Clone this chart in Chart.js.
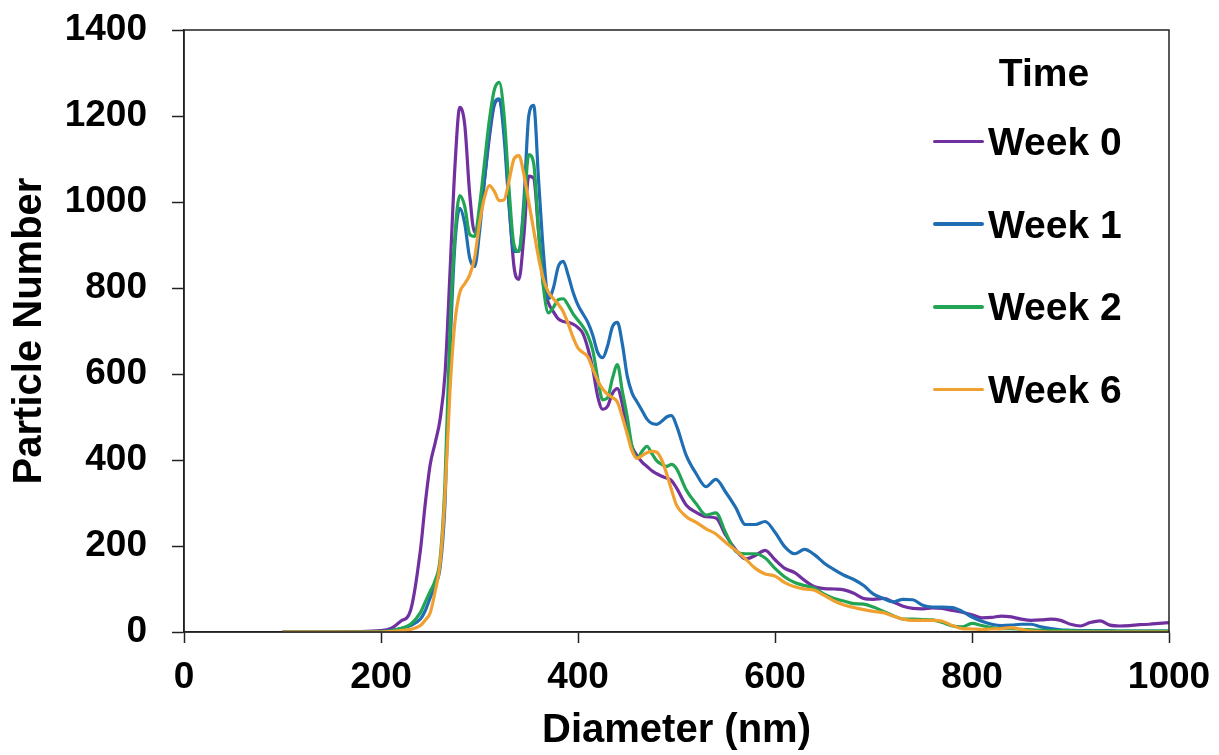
<!DOCTYPE html>
<html>
<head>
<meta charset="utf-8">
<script src="https://cdn.jsdelivr.net/npm/chart.js@4/dist/chart.umd.min.js"></script>
<style>
  body { margin: 0; background: #fff; }
  #wrap { position: relative; width: 1219px; height: 755px; }
  #legend { position: absolute; left: 0; top: 0; font-family: 'Liberation Sans', Arial, sans-serif; font-weight: bold; font-size: 39px; color: #000; }
  #legend .title { position: absolute; left: 994px; width: 100px; text-align: center; top: 53px; line-height: 39px; }
  #legend .row { position: absolute; left: 933px; height: 39px; line-height: 39px; white-space: nowrap; display: flex; align-items: center; }
  #legend .swatch { width: 51px; height: 3.5px; border-radius: 2px; margin-right: 4px; }
</style>
</head>
<body>
<div id="wrap">
  <canvas id="chart"></canvas>
  <div id="legend"><div class="title">Time</div></div>
</div>
<script>
const diameters = [
  100, 150, 200, 210, 220, 230, 240,
  245, 250, 255, 260, 265, 270, 275, 280, 285, 290, 295, 300,
  305, 310, 315, 320, 325, 330, 335, 340, 345, 350, 355, 360,
  365, 370, 375, 380, 385, 390, 395, 400, 405, 410, 415, 420,
  425, 430, 435, 440, 445, 450, 455, 460, 465, 470, 475, 480,
  485, 490, 495, 500,
  510, 520, 530, 540, 550, 560, 570, 580, 590, 600,
  610, 620, 630, 640, 650, 660, 670, 680, 690, 700,
  710, 720, 730, 740, 750, 760, 770, 780, 790, 800,
  810, 820, 830, 840, 850, 860, 870, 880, 890, 900,
  910, 920, 930, 940, 950, 960, 970, 980, 990, 1000
];

const week0 = [
  0, 0, 3, 8, 25, 50, 190,
  300, 390, 440, 495, 600, 834, 1080, 1220, 1180, 1020, 930, 960,
  1050, 1150, 1225, 1238, 1170, 1000, 850, 820, 920, 1060, 1055, 930,
  810, 765, 745, 728, 722, 720, 716, 708, 694, 660, 612, 548,
  518, 525, 555, 566, 530, 468, 430, 410, 395, 385, 375, 368,
  362, 358, 352, 335,
  295, 278, 268, 265, 225, 192, 170, 178, 190, 168,
  148, 138, 120, 105, 101, 100, 98, 90, 78, 76,
  78, 70, 60, 55, 54, 56, 55, 50, 46, 40,
  33, 34, 37, 35, 30, 27, 28, 30, 27, 18,
  14, 22, 26, 16, 14, 15, 17, 18, 20, 22
];

const week1 = [
  0, 0, 1, 3, 8, 15, 30,
  50, 80, 110, 150, 300, 650, 900, 985, 950, 870, 850, 930,
  1050, 1160, 1230, 1240, 1150, 990, 885, 885, 1000, 1200, 1225, 1050,
  880, 775, 800, 850, 862, 830, 790, 760, 740, 720, 690, 650,
  638, 665, 710, 720, 670, 595, 555, 535, 515, 495, 485, 483,
  490, 500, 503, 480,
  410, 368, 338, 355, 325, 290, 250, 250, 257, 232,
  198, 182, 192, 180, 160, 145, 132, 122, 108, 88,
  78, 70, 76, 75, 62, 58, 58, 57, 48, 35,
  25, 18, 15, 16, 18, 18, 12, 8, 5, 4,
  3, 3, 3, 3, 2, 2, 2, 2, 2, 2
];

const week2 = [
  0, 0, 1, 3, 8, 18, 45,
  70, 95, 120, 170, 350, 700, 920, 1015, 990, 925, 920, 990,
  1090, 1190, 1260, 1278, 1200, 1030, 900, 885, 980, 1110, 1090, 930,
  800, 742, 755, 773, 775, 760, 740, 725, 710, 690, 655, 590,
  540, 545, 590, 622, 560, 500, 430, 405, 420, 432, 415, 398,
  390, 385, 390, 380,
  330, 298, 272, 277, 230, 188, 182, 182, 172, 148,
  128, 115, 108, 102, 88, 78, 72, 66, 65, 58,
  48, 38, 30, 30, 29, 28, 22, 14, 12, 20,
  15, 10, 8, 8, 6, 5, 4, 3, 3, 3,
  2, 2, 2, 2, 2, 2, 2, 2, 2, 2
];

const week6 = [
  0, 0, 0, 1, 3, 6, 15,
  28, 45, 95, 160, 320, 560, 720, 790, 810, 830, 870, 950,
  1010, 1038, 1025, 1003, 1005, 1050, 1100, 1108, 1065, 1000, 935, 870,
  820, 790, 775, 762, 745, 717, 685, 660, 650, 640, 612, 585,
  565, 553, 545, 535, 500, 460, 420, 404, 410, 417, 420, 418,
  400, 368, 330, 295,
  268, 255, 240, 228, 208, 190, 170, 148, 135, 130,
  115, 105, 100, 97, 85, 72, 63, 57, 52, 48,
  45, 37, 30, 27, 27, 27, 25, 15, 8, 7,
  6, 7, 8, 10, 6, 2, 1, 0, 0, 0,
  0, 0, 0, 0, 0, 0, 0, 0, 0, 0
];

const seriesLabels = ['Week 0', 'Week 1', 'Week 2', 'Week 6'];
const seriesColors = ['#7030A0', '#1F6EB4', '#22A455', '#F0A030'];
const seriesValues = [week0, week1, week2, week6];

const FONT = "'Liberation Sans', Arial, sans-serif";

const datasets = seriesValues.map((vals, i) => ({
  label: seriesLabels[i],
  data: diameters.map((d, j) => ({ x: d, y: vals[j] })),
  borderColor: seriesColors[i],
  backgroundColor: seriesColors[i],
  borderWidth: 3.2,
  pointRadius: 0,
  fill: false,
  cubicInterpolationMode: 'monotone',
  order: 3 - i
}));

// box round the plot area
const frame = {
  id: 'frame',
  afterDatasetsDraw(chart) {
    const a = chart.chartArea, ctx = chart.ctx;
    ctx.save();
    ctx.strokeStyle = '#222';
    ctx.lineWidth = 1.5;
    ctx.strokeRect(a.left, a.top, a.right - a.left, a.bottom - a.top);
    ctx.restore();
  }
};

const plainLabel = v => String(v);

new Chart(document.getElementById('chart'), {
  type: 'line',
  data: { datasets },
  options: {
    responsive: true,
    maintainAspectRatio: false,
    animation: false,
    layout: { padding: { left: 0, right: 50, top: 30, bottom: 0 } },
    plugins: { legend: { display: false }, tooltip: { enabled: false } },
    scales: {
      x: {
        type: 'linear',
        min: 0, max: 1000,
        afterFit: s => { s.height = 123; s.paddingLeft = 0; s.paddingRight = 0; },
        ticks: { stepSize: 200, padding: 13, color: '#000', callback: plainLabel, font: { family: FONT, size: 37, weight: 'bold' } },
        grid: { drawOnChartArea: false, drawTicks: true, tickLength: 11, tickColor: '#222', tickWidth: 1.5 },
        border: { display: true, color: '#222', width: 1.5 },
        title: { display: true, text: 'Diameter (nm)', color: '#000', padding: { top: 0, bottom: 0 }, font: { family: FONT, size: 40, weight: 'bold' } }
      },
      y: {
        min: 0, max: 1400,
        afterFit: s => { s.width = 184; s.paddingTop = 0; s.paddingBottom = 0; },
        ticks: { stepSize: 200, padding: 25, color: '#000', callback: plainLabel, font: { family: FONT, size: 37, weight: 'bold' } },
        grid: { drawOnChartArea: false, drawTicks: true, tickLength: 12, tickColor: '#222', tickWidth: 1.5 },
        border: { display: true, color: '#222', width: 1.5 },
        title: { display: true, text: 'Particle Number', color: '#000', padding: { top: 6, bottom: 0 }, font: { family: FONT, size: 40, weight: 'bold' } }
      }
    }
  },
  plugins: [frame]
});

// legend inside the plot, built from the series
const legend = document.getElementById('legend');
seriesLabels.forEach((label, i) => {
  const row = document.createElement('div');
  row.className = 'row';
  row.style.top = (122 + i * 82.7) + 'px';
  const sw = document.createElement('span');
  sw.className = 'swatch';
  sw.style.background = seriesColors[i];
  const txt = document.createElement('span');
  txt.textContent = label;
  row.appendChild(sw);
  row.appendChild(txt);
  legend.appendChild(row);
});
</script>
</body>
</html>
